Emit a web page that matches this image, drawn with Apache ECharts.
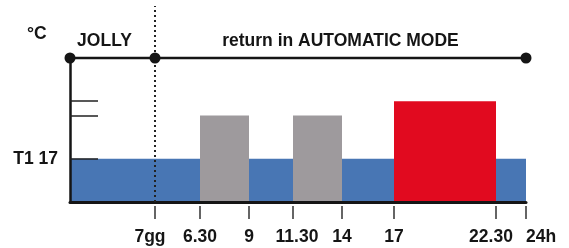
<!DOCTYPE html>
<html>
<head>
<meta charset="utf-8">
<script src="https://cdn.jsdelivr.net/npm/echarts@6/dist/echarts.min.js"></script>
<style>
html, body { margin: 0; padding: 0; background: #fff; }
#chart { width: 569px; height: 248px; }
</style>
</head>
<body>
<div id="chart"></div>
<script>
// schematic day line: tick labels and where they sit along it (not proportional to hours)
const timeLabels = ['7gg', '6.30', '9', '11.30', '14', '17', '22.30', '24h']
const timePos = [85, 130, 179, 223, 272, 324, 426, 456]

// program blocks (from / to / temperature level)
const blockFrom = ['0', '6.30', '11.30', '17']
const blockTo = ['24h', '9', '14', '22.30']
const blockLevel = [17, 20, 20, 21]

// temperature levels marked on the y axis
const levelTicks = [17, 20, 21]
const levelLabels = ['T1 17']

// modes on the top line
const modeNames = ['JOLLY', 'return in AUTOMATIC MODE']
const modeFrom = ['0', '7gg']
const modeTo = ['7gg', '24h']

const Y_MIN = 14
const Y_MAX = 24
const FONT = 'Liberation Sans'
const FS = 17.5
const INK = '#151515'

const posOf = (t) => t === '0' ? 0 : timePos[timeLabels.indexOf(t)]
const levelColor = { 17: '#4876b4', 20: '#9e9a9d', 21: '#e10a1f' }

const blocks = blockFrom.map((f, i) => ({
    value: [posOf(f), posOf(blockTo[i]), blockLevel[i]],
    itemStyle: { color: levelColor[blockLevel[i]] }
}))

const modePoints = [posOf(modeFrom[0])].concat(modeTo.map(posOf)).map(x => [x, Y_MAX])

// the last label (24h) sits right of its tick, so it gets its own axis
const lastPos = timePos[timePos.length - 1]
const innerPos = timePos.slice(0, -1)

// small nudges of some labels, as in the original drawing
const labelRich = {
    l: { padding: [0, 10, 0, 0] },
    r: { padding: [0, 0, 0, 8] },
    n: {}
}
const labelStyle = { '7gg': 'l', '22.30': 'l', '11.30': 'r' }

const labelFont = { fontFamily: FONT, fontWeight: 'bold', fontSize: FS, color: INK }
Object.values(labelRich).forEach(s => Object.assign(s, labelFont))

const option = {
    animation: false,
    grid: [
        { left: 70, right: 43, top: 58, bottom: 46 },
        { left: 70, right: 43, top: 6, bottom: 46 }
    ],
    graphic: [{
        type: 'text', left: 27, top: 25,
        style: { text: '°C', font: 'bold ' + FS + 'px "' + FONT + '"', fill: INK }
    }],
    xAxis: [
        {
            gridIndex: 0, type: 'value', min: 0, max: 456, z: 5,
            axisLine: { lineStyle: { color: INK, width: 3 } },
            axisTick: { show: false }, axisLabel: { show: false }, splitLine: { show: false }
        },
        {
            gridIndex: 0, type: 'value', min: 0, max: 456, position: 'bottom', offset: 4,
            axisLine: { show: false },
            axisTick: { customValues: timePos, length: 13, lineStyle: { color: '#333', width: 1.5 } },
            axisLabel: {
                customValues: innerPos, margin: 22,
                showMinLabel: true, showMaxLabel: true, hideOverlap: false,
                formatter: (v) => {
                    const t = timeLabels[timePos.indexOf(v)]
                    return '{' + (labelStyle[t] || 'n') + '|' + t + '}'
                },
                rich: labelRich,
                ...labelFont
            },
            splitLine: { show: false }
        },
        { gridIndex: 1, type: 'value', min: 0, max: 456, show: false },
        {
            gridIndex: 0, type: 'value', min: 0, max: 456, position: 'bottom', offset: 4,
            axisLine: { show: false },
            axisTick: { show: false },
            axisLabel: {
                customValues: [lastPos], margin: 22, align: 'left',
                showMaxLabel: true,
                formatter: (v) => timeLabels[timePos.indexOf(v)],
                ...labelFont
            },
            splitLine: { show: false }
        }
    ],
    yAxis: [
        {
            gridIndex: 0, type: 'value', min: Y_MIN, max: Y_MAX, z: 5,
            axisLine: { show: true, lineStyle: { color: INK, width: 2.5 } },
            axisTick: { customValues: levelTicks, inside: true, length: 28, lineStyle: { color: '#222', width: 1.5 } },
            axisLabel: {
                customValues: [levelTicks[0]], margin: 12,
                formatter: () => levelLabels[0],
                ...labelFont
            },
            splitLine: { show: false }
        },
        { gridIndex: 1, type: 'value', min: 0, max: 1, show: false }
    ],
    series: [
        {
            type: 'custom',
            xAxisIndex: 0, yAxisIndex: 0,
            encode: { x: [0, 1], y: 2 },
            renderItem: (params, api) => {
                const p0 = api.coord([api.value(0), api.value(2)])
                const p1 = api.coord([api.value(1), Y_MIN])
                return {
                    type: 'rect',
                    shape: { x: p0[0], y: p0[1], width: p1[0] - p0[0], height: p1[1] - p0[1] },
                    style: { fill: api.visual('color') }
                }
            },
            data: blocks,
            silent: true
        },
        {
            // dotted marker at the end of the jolly period
            type: 'line',
            xAxisIndex: 2, yAxisIndex: 1,
            data: [[posOf('7gg'), 0], [posOf('7gg'), 1]],
            symbol: 'none',
            lineStyle: { color: '#222', width: 2, type: [2, 3] },
            silent: true, z: 6
        },
        {
            // top line with the mode changes
            type: 'line',
            xAxisIndex: 0, yAxisIndex: 0,
            data: modePoints,
            clip: false,
            symbol: 'circle', symbolSize: 11,
            itemStyle: { color: INK },
            lineStyle: { color: INK, width: 2.5 },
            silent: true, z: 7,
            markArea: {
                silent: true,
                itemStyle: { color: 'transparent' },
                label: {
                    position: 'top', distance: 8,
                    ...labelFont
                },
                data: modeNames.map((n, i) => [
                    { name: n, xAxis: posOf(modeFrom[i]), label: i === 0 ? { offset: [-8, 0] } : {} },
                    { xAxis: posOf(modeTo[i]) }
                ])
            }
        }
    ]
}

const chart = echarts.init(document.getElementById('chart'))
chart.setOption(option)
window.onresize = () => chart.resize()
</script>
</body>
</html>
